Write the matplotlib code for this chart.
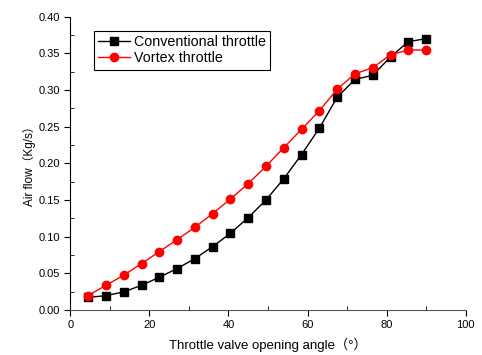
import numpy as np
import matplotlib
matplotlib.use("Agg")
import matplotlib.pyplot as plt
from matplotlib.ticker import MultipleLocator

plt.rcParams['font.family'] = ['Liberation Sans', 'Noto Sans CJK SC', 'DejaVu Sans']

angle = [4.5, 9, 13.5, 18, 22.5, 27, 31.5, 36, 40.5, 45,
         49.5, 54, 58.5, 63, 67.5, 72, 76.5, 81, 85.5, 90]
conventional = [0.017, 0.0195, 0.0245, 0.0336, 0.0445, 0.0564, 0.070, 0.0864, 0.1045, 0.126,
                0.150, 0.179, 0.212, 0.248, 0.290, 0.3145, 0.320, 0.345, 0.366, 0.370]
vortex = [0.0195, 0.0336, 0.0473, 0.0632, 0.0795, 0.0959, 0.1127, 0.1314, 0.1514, 0.1723,
          0.196, 0.2214, 0.2464, 0.2718, 0.301, 0.322, 0.3305, 0.348, 0.3545, 0.3545]

fig = plt.figure(figsize=(4.82, 3.55), dpi=100)
ax = fig.add_axes([0.146, 0.127, 0.82, 0.826])

ax.plot(angle, conventional, "k-", marker="s", markersize=5.5, linewidth=1,
        label="Conventional throttle")
ax.plot(angle, vortex, "r-", marker="o", markersize=6, linewidth=1,
        label="Vortex throttle")

ax.set_xlim(0, 100)
ax.set_ylim(0, 0.40)
ax.xaxis.set_major_locator(MultipleLocator(20))
ax.xaxis.set_minor_locator(MultipleLocator(10))
ax.yaxis.set_major_locator(MultipleLocator(0.05))
ax.yaxis.set_minor_locator(MultipleLocator(0.025))
ax.yaxis.set_major_formatter(matplotlib.ticker.FormatStrFormatter("%.2f"))

ax.spines['top'].set_visible(False)
ax.spines['right'].set_visible(False)
ax.spines['bottom'].set_color('#555555')
ax.tick_params(which='major', direction='out', length=4, labelsize=8)
ax.tick_params(which='minor', direction='in', length=3)

ax.set_xlabel("Throttle valve opening angle（°）", fontsize=9.5, labelpad=5)
ax.set_ylabel("Air flow（Kg/s）", fontsize=8.5, labelpad=2)

leg = ax.legend(loc="upper left", bbox_to_anchor=(0.06, 0.951), borderaxespad=0,
                fontsize=10.3, fancybox=False, edgecolor='black', framealpha=1,
                borderpad=0.3, labelspacing=0.15, handlelength=2.2, handletextpad=0.3)
leg.get_frame().set_linewidth(0.8)

fig.savefig("out.png", dpi=100)
